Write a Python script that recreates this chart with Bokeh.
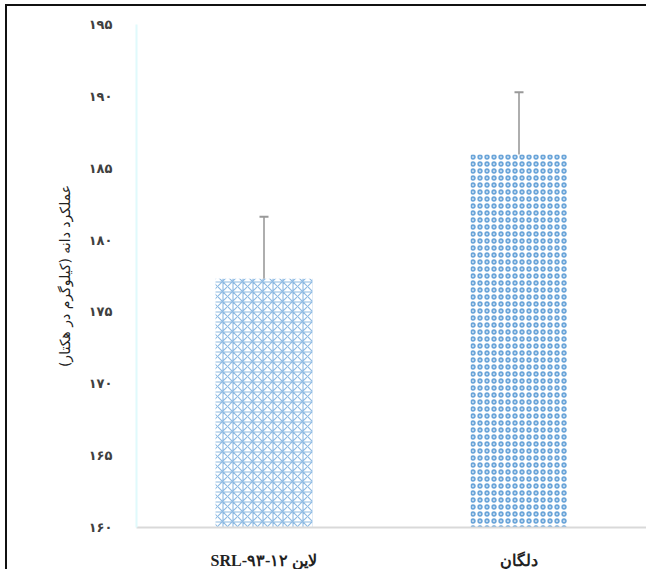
from bokeh.plotting import figure
from bokeh.models import ColumnDataSource, Whisker, TeeHead, FixedTicker, Range1d, CDSView, IndexFilter
from bokeh.embed import file_html
from bokeh.resources import INLINE

categories = ["\u202bلاین SRL-۹۳-۱۲\u202c", "دلگان"]
values = [177.3, 185.95]
errors = [4.33, 4.33]
tick_values = [160, 165, 170, 175, 180, 185, 190, 195]
tick_labels = ["۱۶۰", "۱۶۵", "۱۷۰", "۱۷۵", "۱۸۰", "۱۸۵", "۱۹۰", "۱۹۵"]
y_title = "\u202bعملکرد دانه (کیلوگرم در هکتار)\u202c"

src = ColumnDataSource(dict(
    cat=categories, val=values,
    lo=[v - e for v, e in zip(values, errors)],
    hi=[v + e for v, e in zip(values, errors)],
))

p = figure(x_range=categories, y_range=Range1d(160, 195),
           width=641, height=565, output_backend="svg", toolbar_location=None,
           min_border_left=129, min_border_right=2, min_border_top=18, min_border_bottom=41)
p.styles = {"margin-left": "5px", "margin-top": "4px",
            "border-left": "2px solid #111", "border-top": "2px solid #111"}
p.outline_line_color = None
p.grid.visible = False
p.background_fill_color = "white"

bar_styles = [dict(hatch_pattern="*", hatch_scale=10, hatch_weight=1.1, hatch_alpha=0.7),
              dict(hatch_pattern="o", hatch_scale=7, hatch_weight=1.8, hatch_alpha=0.9)]
for i, st in enumerate(bar_styles):
    p.vbar(x="cat", top="val", bottom=160, width=0.38, source=src,
           view=CDSView(filter=IndexFilter([i])),
           fill_color="white", line_color=None, hatch_color="#5b9bd5", **st)

w = Whisker(base="cat", lower="lo", upper="hi", source=src,
            line_color="#9a9a9a", line_width=1.6,
            upper_head=TeeHead(size=9, line_color="#999999", line_width=2),
            lower_head=TeeHead(size=9, line_color="#999999", line_width=2))
p.add_layout(w)

p.yaxis.ticker = FixedTicker(ticks=tick_values)
p.yaxis.major_label_overrides = {t: l for t, l in zip(tick_values, tick_labels)}
p.yaxis.axis_line_color = "#e0fafc"
p.yaxis.axis_line_width = 2
p.yaxis.major_tick_line_color = None
p.yaxis.minor_tick_line_color = None
p.yaxis.major_label_text_font = "DejaVu Sans"
p.yaxis.major_label_text_font_style = "bold"
p.yaxis.major_label_text_font_size = "13px"
p.yaxis.major_label_text_color = "#404040"
p.yaxis.major_label_standoff = 18
p.yaxis.axis_label = y_title
p.yaxis.axis_label_text_font = "DejaVu Sans"
p.yaxis.axis_label_text_font_style = "normal"
p.yaxis.axis_label_text_font_size = "14px"
p.yaxis.axis_label_text_color = "#222222"
p.yaxis.axis_label_standoff = 13

p.xaxis.axis_line_color = "#d9d9d9"
p.xaxis.axis_line_width = 2
p.xaxis.major_tick_line_color = None
p.xaxis.minor_tick_line_color = None
p.xaxis.major_label_text_font = "Liberation Serif"
p.xaxis.major_label_text_font_style = "bold"
p.xaxis.major_label_text_font_size = "16px"
p.xaxis.major_label_text_color = "#222222"
p.xaxis.major_label_standoff = 18

open("out.html", "w").write(file_html(p, INLINE))
